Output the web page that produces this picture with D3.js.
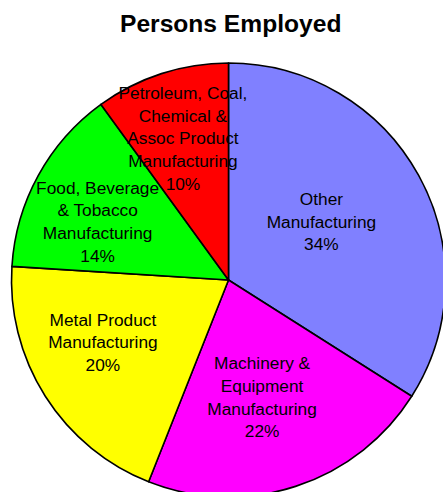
<!DOCTYPE html>
<html>
<head>
<meta charset="utf-8">
<script src="https://cdn.jsdelivr.net/npm/d3@7"></script>
<style>
  body { margin: 0; background: #fff; }
  svg { display: block; font-family: "Liberation Sans", Arial, sans-serif; }
</style>
</head>
<body>
<svg width="443" height="492"></svg>
<script>
// data, clockwise from 12 o'clock
const categories = [
    ['Other', 'Manufacturing'],
    ['Machinery &', 'Equipment', 'Manufacturing'],
    ['Metal Product', 'Manufacturing'],
    ['Food, Beverage', '& Tobacco', 'Manufacturing'],
    ['Petroleum, Coal,', 'Chemical &', 'Assoc Product', 'Manufacturing'],
];
const shares = [34, 22, 20, 14, 10];
const colors = ['#8080FF', '#FF00FF', '#FFFF00', '#00FF00', '#FF0000'];

// label nudges from the centroid (Excel moved them about a bit)
const labelNudge = [[-25, 6], [-8, -11], [-12, -10], [-13, 6], [-4, -14]];

const svg = d3.select('svg');
const cx = 228.5, cy = 280, r = 217;
const lineH = 22.7;

svg.append('text')
    .attr('x', 230.7)
    .attr('y', 32)
    .attr('text-anchor', 'middle')
    .style('font-weight', 'bold')
    .style('font-size', '24.6px')
    .text('Persons Employed');

const pie = d3.pie().sort(null).value(d => d)(shares);
const arc = d3.arc().innerRadius(0).outerRadius(r);
const labelArc = d3.arc().innerRadius(r * 0.62).outerRadius(r * 0.62);

const g = svg.append('g').attr('transform', `translate(${cx},${cy})`);

g.selectAll('path.slice')
    .data(pie)
    .enter()
    .append('path')
    .attr('class', 'slice')
    .attr('d', arc)
    .style('fill', (d, i) => colors[i])
    .style('stroke', '#000')
    .style('stroke-width', 1.6)
    .style('stroke-linejoin', 'round');

const labels = g.selectAll('text.lbl')
    .data(pie)
    .enter()
    .append('text')
    .attr('class', 'lbl')
    .attr('text-anchor', 'middle')
    .style('font-size', '17.3px')
    .style('fill', '#000')
    .attr('transform', (d, i) => {
        const c = labelArc.centroid(d);
        return `translate(${c[0] + labelNudge[i][0]},${c[1] + labelNudge[i][1]})`;
    });

labels.each(function (d, i) {
    const lines = categories[i].concat([shares[i] + '%']);
    const t = d3.select(this);
    const y0 = -(lines.length - 1) / 2 * lineH + 6.4;
    lines.forEach((s, k) => {
        t.append('tspan')
            .attr('x', 0)
            .attr('y', y0 + k * lineH)
            .text(s);
    });
});
</script>
</body>
</html>
